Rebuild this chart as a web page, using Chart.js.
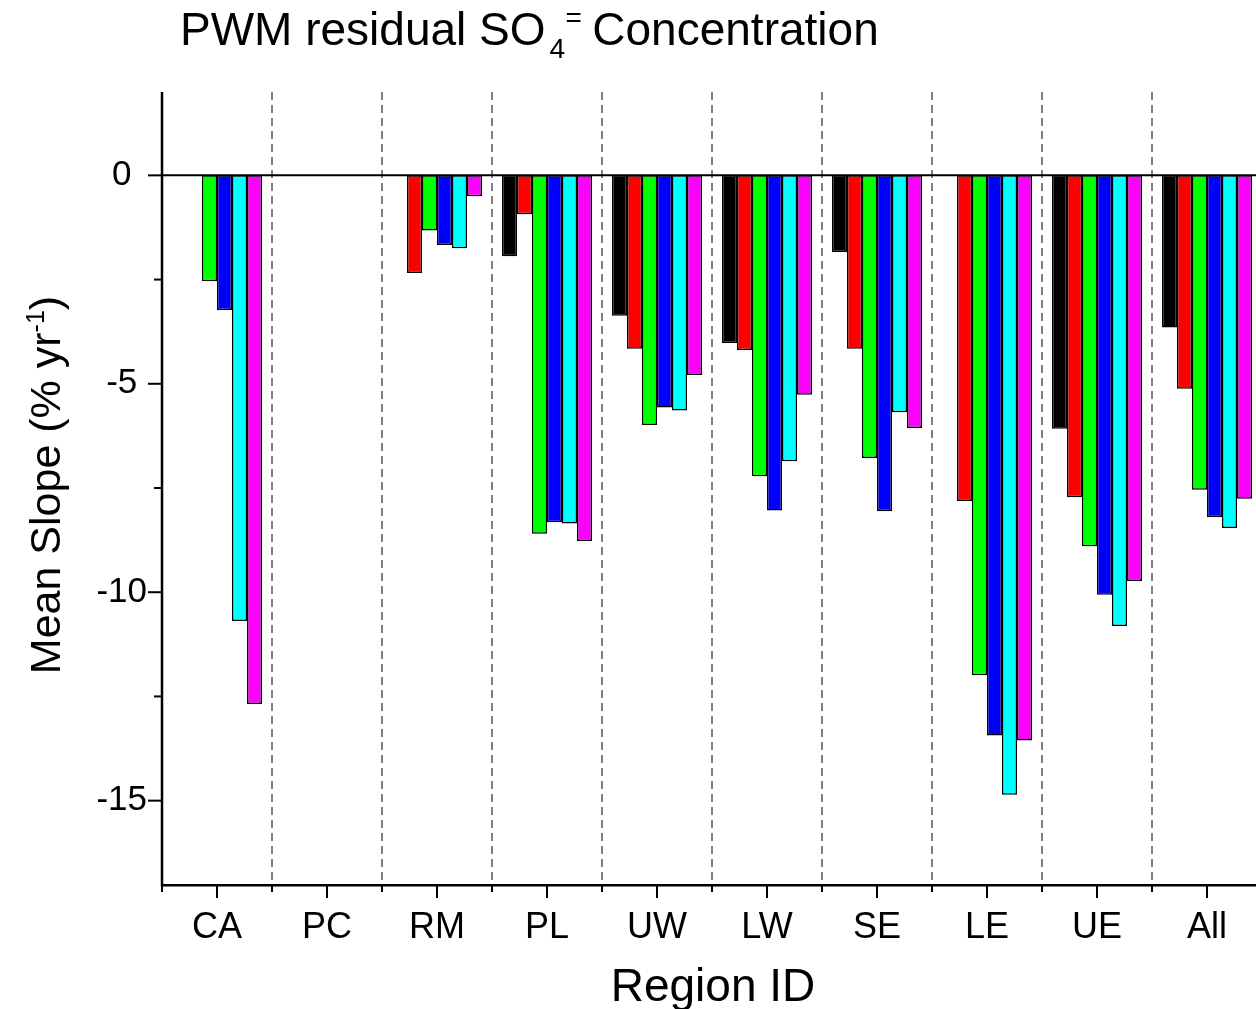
<!DOCTYPE html>
<html><head><meta charset="utf-8">
<script src="https://cdn.jsdelivr.net/npm/chart.js@4"></script>
<style>
html,body{margin:0;padding:0;overflow:hidden;background:#fff}
#wrap{position:relative;width:1270px;height:1009px}
</style>
</head><body><div id="wrap"><canvas id="c"></canvas></div>
<script>
const regions = ['CA','PC','RM','PL','UW','LW','SE','LE','UE','All'];
const seriesBlack   = [null, null, null, -1.94, -3.37, -4.02, -1.84, null, -6.08, -3.65];
const seriesRed     = [null, null, -2.34, -0.93, -4.16, -4.19, -4.16, -7.81, -7.72, -5.12];
const seriesGreen   = [-2.54, null, -1.32, -8.60, -5.99, -7.22, -6.78, -11.99, -8.90, -7.54];
const seriesBlue    = [-3.23, null, -1.67, -8.32, -5.57, -8.04, -8.06, -13.44, -10.06, -8.20];
const seriesCyan    = [-10.69, null, -1.75, -8.35, -5.64, -6.86, -5.68, -14.86, -10.81, -8.46];
const seriesMagenta = [-12.68, null, -0.50, -8.77, -4.79, -5.26, -6.06, -13.56, -9.73, -7.76];
const yTickValues = [-15, -10, -5, 0];
const yMinorValues = [-12.5, -7.5, -2.5];
const seriesColors = ['#000000','#ff0000','#00ff00','#0000ff','#00ffff','#ff00ff'];
const seriesData = [seriesBlack, seriesRed, seriesGreen, seriesBlue, seriesCyan, seriesMagenta];
const seriesNames = ['black','red','green','blue','cyan','magenta'];

const FONT = '"Liberation Sans", Arial, sans-serif';

const axesPlugin = {
  id: 'axesPlugin',
  afterDatasetsDraw(chart) {
    const {ctx, chartArea: a, scales: {x, y}} = chart;
    ctx.save();
    ctx.strokeStyle = '#000';
    ctx.lineWidth = 2;
    const y0 = y.getPixelForValue(0);
    ctx.beginPath(); ctx.moveTo(a.left, y0); ctx.lineTo(a.right, y0); ctx.stroke();
    ctx.lineWidth = 2.5;
    ctx.beginPath(); ctx.moveTo(a.left, a.top); ctx.lineTo(a.left, a.bottom + 1.25); ctx.lineTo(a.right, a.bottom + 1.25); ctx.stroke();
    ctx.lineWidth = 2;
    yTickValues.forEach(v => {
      const p = y.getPixelForValue(v);
      ctx.beginPath(); ctx.moveTo(a.left - 14, p); ctx.lineTo(a.left, p); ctx.stroke();
    });
    yMinorValues.forEach(v => {
      const p = y.getPixelForValue(v);
      ctx.beginPath(); ctx.moveTo(a.left - 8, p); ctx.lineTo(a.left, p); ctx.stroke();
    });
    const step = x.getPixelForValue(1) - x.getPixelForValue(0);
    for (let i = 0; i < regions.length; i++) {
      const p = x.getPixelForValue(i);
      ctx.beginPath(); ctx.moveTo(p, a.bottom); ctx.lineTo(p, a.bottom + 14); ctx.stroke();
      const q = p + step / 2;
      ctx.beginPath(); ctx.moveTo(q, a.bottom); ctx.lineTo(q, a.bottom + 8); ctx.stroke();
    }
    ctx.beginPath(); ctx.moveTo(a.left, a.bottom); ctx.lineTo(a.left, a.bottom + 8); ctx.stroke();
    ctx.restore();
  },
  afterDraw(chart) {
    const {ctx} = chart;
    ctx.save();
    ctx.fillStyle = '#000';
    ctx.textBaseline = 'alphabetic';
    ctx.textAlign = 'left';
    // title
    ctx.font = '46px ' + FONT;
    let tx = 180, ty = 45;
    const t1 = 'PWM residual SO';
    ctx.fillText(t1, tx, ty);
    tx += ctx.measureText(t1).width;
    ctx.font = '28px ' + FONT;
    ctx.fillText('4', tx + 4, ty + 13);
    ctx.fillText('=', tx + 20, ty - 18);
    tx += 34;
    ctx.font = '46px ' + FONT;
    ctx.fillText(' Concentration', tx, ty);
    // x title
    ctx.textAlign = 'center';
    ctx.font = '46px ' + FONT;
    ctx.fillText('Region ID', 713, 1001);
    // y title
    ctx.translate(60, 485);
    ctx.rotate(-Math.PI / 2);
    ctx.textAlign = 'left';
    const s1 = 'Mean Slope (% yr', s2 = '-1', s3 = ')';
    ctx.font = '43px ' + FONT;
    const w1 = ctx.measureText(s1).width, w3 = ctx.measureText(s3).width;
    ctx.font = '25px ' + FONT;
    const w2 = ctx.measureText(s2).width;
    let sx = -(w1 + w2 + w3) / 2;
    ctx.font = '43px ' + FONT;
    ctx.fillText(s1, sx, 0);
    ctx.font = '25px ' + FONT;
    ctx.fillText(s2, sx + w1, -16);
    ctx.font = '43px ' + FONT;
    ctx.fillText(s3, sx + w1 + w2, 0);
    ctx.restore();
  }
};

new Chart(document.getElementById('c'), {
  type: 'bar',
  data: {
    labels: regions,
    datasets: seriesData.map((d, i) => ({
      label: seriesNames[i],
      data: d,
      backgroundColor: seriesColors[i],
      borderColor: '#000',
      borderWidth: 1.5,
      borderSkipped: false,
      categoryPercentage: 0.818,
      barPercentage: 1.0
    }))
  },
  options: {
    responsive: true,
    maintainAspectRatio: false,
    animation: false,
    devicePixelRatio: 1,
    layout: { padding: { top: 92, right: 8, left: 0, bottom: 0 } },
    plugins: { legend: { display: false }, title: { display: false }, tooltip: { enabled: false } },
    scales: {
      x: {
        type: 'category',
        offset: true,
        grid: { display: true, offset: true, drawTicks: false, color: '#7f7f7f', lineWidth: 2 },
        border: { display: false, dash: [8, 5] },
        ticks: { color: '#000', font: { family: FONT, size: 36 }, padding: 22, maxRotation: 0, autoSkip: false },
        afterFit(s) { s.height = 125; }
      },
      y: {
        min: -17, max: 2,
        grid: { display: false, drawTicks: false },
        border: { display: false },
        afterBuildTicks(s) { s.ticks = yTickValues.map(v => ({ value: v })); },
        ticks: { color: '#000', font: { family: FONT, size: 35 }, padding: 15, crossAlign: 'center' },
        afterFit(s) { s.width = 162; }
      }
    }
  },
  plugins: [axesPlugin]
});
</script>
</body></html>
